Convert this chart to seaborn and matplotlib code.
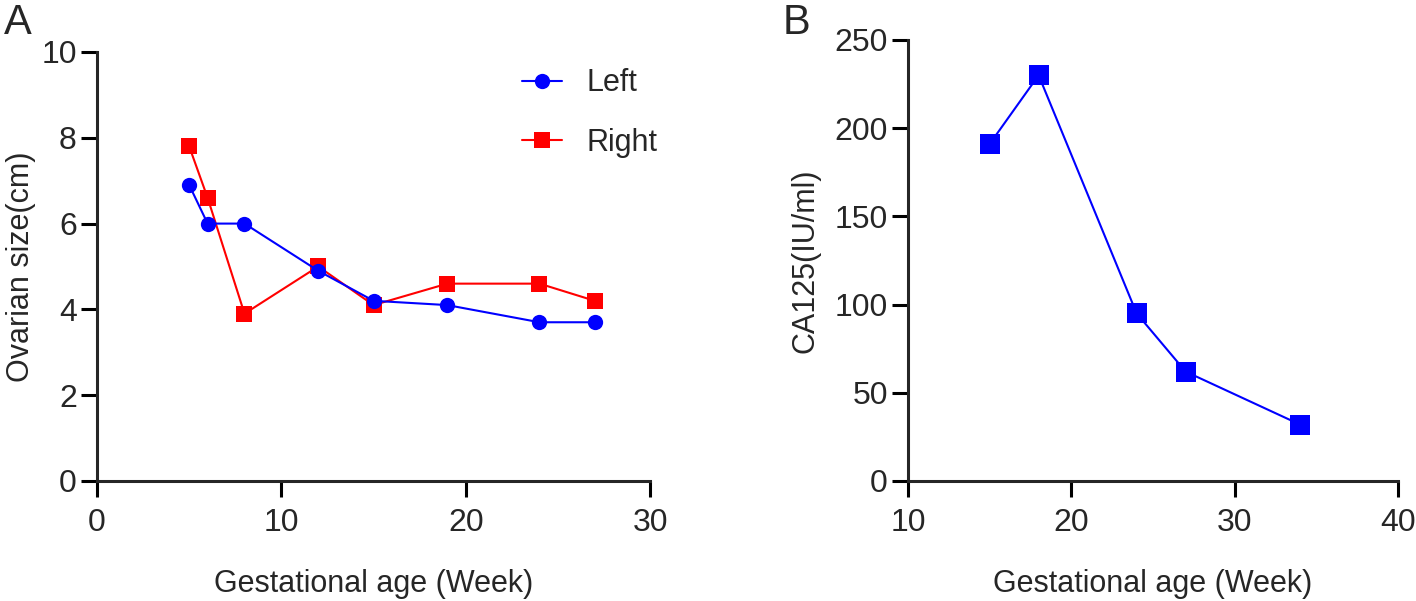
import matplotlib
matplotlib.use('Agg')
import matplotlib.pyplot as plt
import seaborn as sns
import pandas as pd

sns.set_style('ticks')
plt.rcParams['font.family'] = ['Liberation Sans', 'DejaVu Sans']

# Panel A: ovarian size
weeks_a = [5, 6, 8, 12, 15, 19, 24, 27]
left_size = [6.9, 6.0, 6.0, 4.9, 4.2, 4.1, 3.7, 3.7]
right_size = [7.8, 6.6, 3.9, 5.0, 4.1, 4.6, 4.6, 4.2]

# Panel B: CA125
weeks_b = [15, 18, 24, 27, 34]
ca125 = [191, 230, 95, 62, 32]

df_a = pd.DataFrame({'week': weeks_a, 'Left': left_size, 'Right': right_size})
df_b = pd.DataFrame({'week': weeks_b, 'ca125': ca125})

fig = plt.figure(figsize=(14.16, 6.01), dpi=100)
ax1 = fig.add_axes([0.0685, 0.1997, 0.3906, 0.7138])
ax2 = fig.add_axes([0.6412, 0.1997, 0.3461, 0.7338])

sns.lineplot(data=df_a, x='week', y='Right', ax=ax1, color='#ff0000', marker='s',
             markersize=11, markeredgewidth=0, linewidth=1.5, label='Right')
sns.lineplot(data=df_a, x='week', y='Left', ax=ax1, color='#0000ff', marker='o',
             markersize=11, markeredgewidth=0, linewidth=1.5, label='Left')
sns.lineplot(data=df_b, x='week', y='ca125', ax=ax2, color='#0000ff', marker='s',
             markersize=15, markeredgewidth=0, linewidth=1.5)

handles, labels = ax1.get_legend_handles_labels()
ax1.legend(handles[::-1], labels[::-1], loc='upper left', bbox_to_anchor=(0.747, 0.99),
           frameon=False, fontsize=22, handlelength=1.3, handletextpad=0.8,
           labelspacing=0.95, borderaxespad=0)

for ax in (ax1, ax2):
    sns.despine(ax=ax)
    for s in ('left', 'bottom'):
        ax.spines[s].set_linewidth(2.2)
    ax.tick_params(width=2.2, length=11.5, labelsize=23, color='black')
    ax.tick_params(axis='y', pad=3)
    ax.tick_params(axis='x', pad=8)
    ax.set_xlabel('Gestational age (Week)', fontsize=22, labelpad=22)

ax1.set_xlim(0, 30)
ax1.set_ylim(0, 10)
ax1.set_xticks([0, 10, 20, 30])
ax1.set_yticks([0, 2, 4, 6, 8, 10])
ax1.set_ylabel('Ovarian size(cm)', fontsize=22, labelpad=4)

ax2.set_xlim(10, 40)
ax2.set_ylim(0, 250)
ax2.set_xticks([10, 20, 30, 40])
ax2.set_yticks([0, 50, 100, 150, 200, 250])
ax2.set_ylabel('CA125(IU/ml)', fontsize=22, labelpad=10)

fig.text(0.003, 0.995, 'A', fontsize=30, va='top', ha='left')
fig.text(0.553, 0.995, 'B', fontsize=30, va='top', ha='left')

fig.savefig('out.png', dpi=100)
